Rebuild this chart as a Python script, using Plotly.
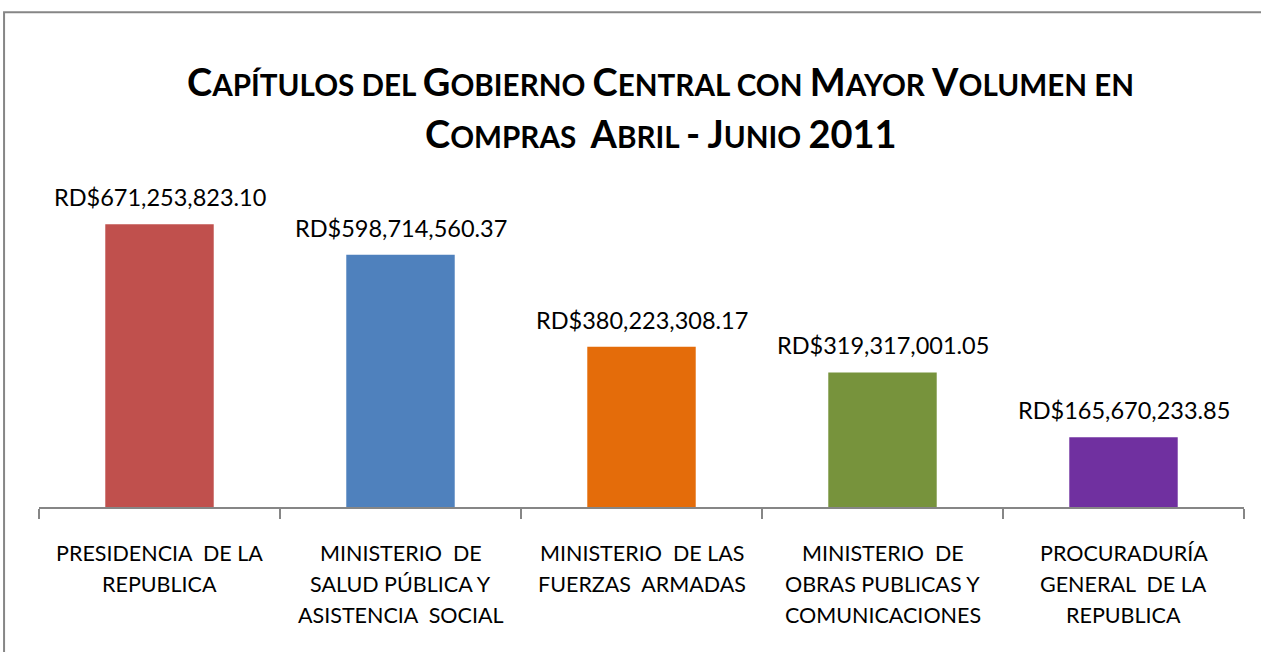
import plotly.graph_objects as go

categories = [
    "PRESIDENCIA  DE LA<br>REPUBLICA",
    "MINISTERIO  DE<br>SALUD PÚBLICA Y<br>ASISTENCIA  SOCIAL",
    "MINISTERIO  DE LAS<br>FUERZAS  ARMADAS",
    "MINISTERIO  DE<br>OBRAS PUBLICAS Y<br>COMUNICACIONES",
    "PROCURADURÍA<br>GENERAL  DE LA<br>REPUBLICA",
]
values = [671253823.10, 598714560.37, 380223308.17, 319317001.05, 165670233.85]
colors = ["#C0504D", "#4F81BD", "#E46C0A", "#77933C", "#7030A0"]
title_lines = ["Capítulos del Gobierno Central con Mayor Volumen en", "Compras  Abril - Junio 2011"]

BIG, SMALL = 38, 29.6
FONT = "Lato, 'Open Sans', sans-serif"


def small_caps(text):
    out = []
    for ch in text:
        if ch.islower():
            out.append(f"<span style='font-size:{SMALL}px'>{ch.upper()}</span>")
        elif ch == " ":
            out.append(f"<span style='font-size:{SMALL}px'> </span>")
        else:
            out.append(ch)
    return "".join(out)


fig = go.Figure()
fig.add_trace(go.Bar(
    x=categories, y=values, marker=dict(color=colors, line=dict(width=0)),
    hoverinfo="skip", showlegend=False,
))

annotations = []
for c, v in zip(categories, values):
    annotations.append(dict(
        x=c, y=v, xref="x", yref="y", text=f"RD${v:,.2f}", showarrow=False,
        yanchor="middle", yshift=27, font=dict(family=FONT, size=23.5, color="#000000"),
    ))
for c in categories:
    for j, line in enumerate(c.split("<br>")):
        annotations.append(dict(
            x=c, y=0, xref="x", yref="y", text=line, showarrow=False,
            yanchor="middle", yshift=-46 - 31 * j,
            font=dict(family=FONT, size=21.5, color="#000000"),
        ))
title_y = [1.264, 1.110]
for k, t in enumerate(title_lines):
    annotations.append(dict(
        x=0.516, y=title_y[k], xref="paper", yref="paper", text=f"<b>{small_caps(t)}</b>",
        showarrow=False, xanchor="center", yanchor="middle",
        font=dict(family=FONT, size=BIG, color="#000000"),
    ))

fig.update_layout(
    width=1261, height=652,
    margin=dict(l=39, r=17, t=170, b=145),
    paper_bgcolor="white", plot_bgcolor="white",
    bargap=0.55,
    annotations=annotations,
    xaxis=dict(
        type="category", showticklabels=False,
        showline=True, linecolor="#868686", linewidth=1.5,
        ticks="outside", tickson="boundaries", ticklen=10, tickcolor="#868686", tickwidth=1.5,
        showgrid=False, zeroline=False, fixedrange=True,
    ),
    yaxis=dict(range=[0, 800e6], visible=False, fixedrange=True),
    shapes=[dict(
        type="rect", xref="paper", yref="paper",
        x0=-0.029, x1=1.06, y0=-0.47, y1=1.468,
        line=dict(color="#868686", width=2), fillcolor="rgba(0,0,0,0)", layer="below",
    )],
)

fig.write_html(
    "out.html",
    config={"displayModeBar": False},
    post_script="document.body.style.margin='0';document.body.style.overflow='hidden';",
)
